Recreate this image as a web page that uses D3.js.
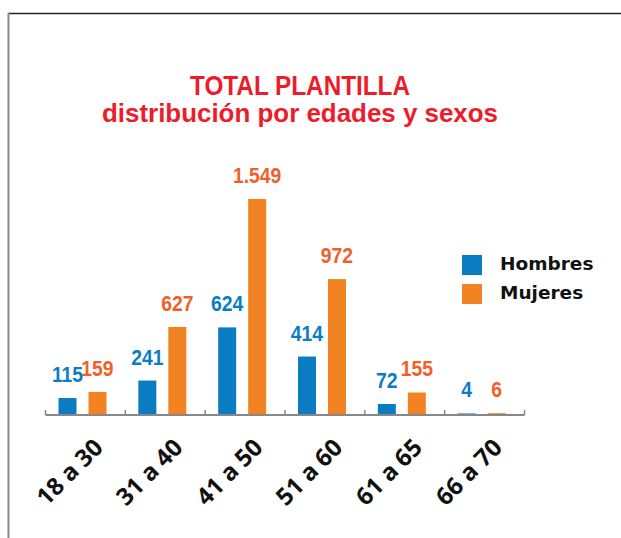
<!DOCTYPE html>
<html>
<head>
<meta charset="utf-8">
<script src="https://cdn.jsdelivr.net/npm/d3@7"></script>
<style>
  html, body { margin: 0; padding: 0; background: #fff; }
  svg { display: block; }
</style>
</head>
<body>
<svg id="chart" width="621" height="538"></svg>
<script>
const categories = ["18 a 30", "31 a 40", "41 a 50", "51 a 60", "61 a 65", "66 a 70"];
const seriesNames = ["Hombres", "Mujeres"];
const hombres = [115, 241, 624, 414, 72, 4];
const mujeres = [159, 627, 1549, 972, 155, 6];
const valueLabelsH = ["115", "241", "624", "414", "72", "4"];
const valueLabelsM = ["159", "627", "1.549", "972", "155", "6"];
const titleLines = ["TOTAL PLANTILLA", "distribución por edades y sexos"];

const barColors = {Hombres: "#0a7cc3", Mujeres: "#f28322"};
const labelColors = {Hombres: "#0b7dc4", Mujeres: "#f1602a"};
const titleColor = "#ed1c2a";
const condensed = "'Liberation Sans', Arial, sans-serif";

const svg = d3.select("#chart");

// frame
svg.append("line").attr("x1", 8).attr("x2", 621).attr("y1", 13.5).attr("y2", 13.5)
  .attr("stroke", "#222").attr("stroke-width", 1.5);
svg.append("line").attr("x1", 8.5).attr("x2", 8.5).attr("y1", 13).attr("y2", 538)
  .attr("stroke", "#888").attr("stroke-width", 2);

// title
svg.append("text").attr("x", 300).attr("y", 95).attr("text-anchor", "middle")
  .attr("font-family", condensed)
  .attr("font-weight", "bold").attr("font-size", 27.5).attr("fill", titleColor)
  .attr("textLength", 220).attr("lengthAdjust", "spacingAndGlyphs")
  .text(titleLines[0]);
svg.append("text").attr("x", 300).attr("y", 122).attr("text-anchor", "middle")
  .attr("font-family", condensed)
  .attr("font-weight", "bold").attr("font-size", 26).attr("fill", titleColor)
  .attr("textLength", 396).attr("lengthAdjust", "spacingAndGlyphs")
  .text(titleLines[1]);

// scales
const x0 = d3.scaleBand().domain(categories).range([45.5, 524.5]).padding(0);
const x1 = d3.scaleBand().domain(seriesNames).range([13, 61]).paddingInner(0.4).paddingOuter(0);
const y = d3.scaleLinear().domain([0, 1549]).range([414, 199]);

const data = categories.map((c, i) => ({
  cat: c,
  values: [
    {s: "Hombres", v: hombres[i], label: valueLabelsH[i]},
    {s: "Mujeres", v: mujeres[i], label: valueLabelsM[i]}
  ]
}));

const groups = svg.append("g").selectAll("g").data(data).join("g")
  .attr("transform", d => `translate(${x0(d.cat)},0)`);

groups.selectAll("rect").data(d => d.values).join("rect")
  .attr("x", d => x1(d.s))
  .attr("width", x1.bandwidth())
  .attr("y", d => y(d.v))
  .attr("height", d => y(0) - y(d.v))
  .attr("fill", d => barColors[d.s]);

groups.selectAll("text").data(d => d.values).join("text")
  .attr("transform", d => `translate(${x1(d.s) + x1.bandwidth() / 2},${y(d.v) - 16}) scale(0.86,1)`)
  .attr("text-anchor", "middle")
  .attr("font-family", condensed)
  .attr("font-weight", "bold").attr("font-size", 22.5)
  .attr("fill", d => labelColors[d.s])
  .text(d => d.label);

// axis
const axisY = 415;
const [ax0, ax1] = x0.range();
svg.append("line").attr("x1", ax0).attr("x2", ax1).attr("y1", axisY).attr("y2", axisY)
  .attr("stroke", "#888").attr("stroke-width", 2);
const tickXs = categories.map(c => x0(c)).concat([ax1]);
svg.append("g").selectAll("line").data(tickXs).join("line")
  .attr("x1", d => d).attr("x2", d => d)
  .attr("y1", axisY - 5).attr("y2", axisY)
  .attr("stroke", "#888").attr("stroke-width", 1.5);

// category labels
svg.append("g").selectAll("text").data(categories).join("text")
  .attr("transform", c => `translate(${x0(c) + x0.bandwidth() / 2 + 19},449) rotate(-45)`)
  .attr("text-anchor", "end")
  .attr("font-family", "'Open Sans', sans-serif")
  .attr("font-weight", "bold").attr("font-size", 24)
  .attr("fill", "#111")
  .text(c => c);

// legend
const legend = svg.append("g").selectAll("g").data(seriesNames).join("g")
  .attr("transform", (d, i) => `translate(462,${255 + i * 29})`);
legend.append("rect").attr("width", 20).attr("height", 20).attr("fill", d => barColors[d]);
legend.append("text").attr("x", 38).attr("y", 15)
  .attr("font-family", "'DejaVu Sans', sans-serif")
  .attr("font-weight", "bold").attr("font-size", 18.5).attr("fill", "#111")
  .text(d => d);
</script>
</body>
</html>
